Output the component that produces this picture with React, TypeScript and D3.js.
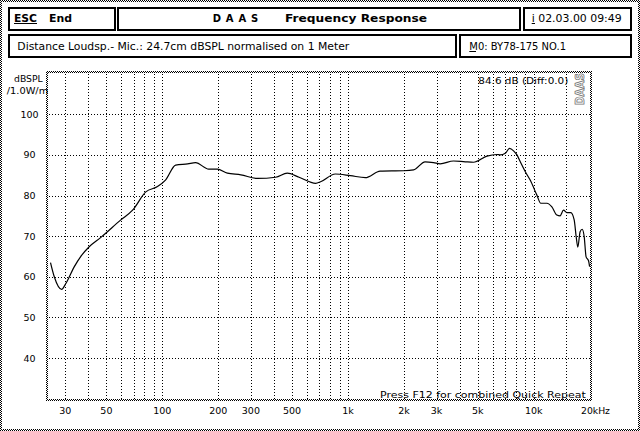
import React from "react";
import * as d3 from "d3";

const freqs = [25, 26.2, 28.7, 30.3, 33.6, 36.5, 40.4, 46.7, 59.8, 69.2, 81.5, 94.2, 104, 118, 137, 151, 178, 198, 224, 265, 325, 408, 471, 545, 670, 712, 855, 1030, 1240, 1490, 1990, 2255, 2600, 2890, 3140, 3700, 4280, 4740, 5600, 6340, 6610, 7030, 7410, 7790, 8125, 8530, 9000, 9575, 10400, 10920, 11780, 12530, 13330, 13870, 14470, 15090, 15850, 16520, 16930, 17280, 17780, 18240, 18700, 19150, 19720, 20000];
const spl = [63.5, 60.0, 56.9, 58.4, 62.5, 65.1, 67.4, 69.7, 74.0, 76.4, 80.9, 82.2, 83.8, 87.5, 87.8, 88.1, 86.5, 86.5, 85.5, 85.1, 84.2, 84.5, 85.5, 84.5, 83.0, 83.4, 85.3, 84.9, 84.4, 86.0, 86.1, 86.3, 88.3, 88.1, 87.8, 88.5, 88.3, 88.2, 89.7, 90.1, 90.0, 90.4, 91.6, 91.0, 90.0, 88.0, 85.9, 83.8, 80.1, 78.1, 78.1, 77.2, 75.2, 75.0, 76.4, 75.8, 75.8, 74.0, 69.9, 67.3, 71.1, 71.7, 69.9, 64.9, 64.0, 62.5];

const yTicks = [100, 90, 80, 70, 60, 50, 40];
const xGrid = [30, 40, 50, 60, 70, 80, 90, 100, 200, 300, 400, 500, 600, 700, 800, 900, 1000, 2000, 3000, 4000, 5000, 6000, 7000, 8000, 9000, 10000, 15000];
const xTickValues = [30, 50, 100, 200, 300, 500, 1000, 2000, 3000, 5000, 10000];
const xTickLabels = ["30", "50", "100", "200", "300", "500", "1k", "2k", "3k", "5k", "10k"];

export default function App() {
  const W = 640, H = 431;
  const x = d3.scaleLog().domain([100, 10000]).range([162.3, 533.7]);
  const y = d3.scaleLinear().domain([100, 40]).range([114.3, 358]);
  const pts: [number, number][] = freqs.map((f, i) => [x(f), y(spl[i])]);
  const line = d3.line().curve(d3.curveMonotoneX)(pts) || "";
  const L = 48, R = 589.5, T = 73, B = 399;
  const font = "'DejaVu Sans', sans-serif";

  const box = (x0: number, y0: number, x1: number, y1: number, key: string) => (
    <rect key={key} x={x0 + 1} y={y0 + 1} width={x1 - x0 - 2} height={y1 - y0 - 2} fill="#fff" stroke="#000" strokeWidth={2} shapeRendering="crispEdges" />
  );

  return (
    <svg width={W} height={H} style={{ position: "absolute", left: 0, top: 0, background: "#fff" }} fontFamily={font}>
      <defs>
        <pattern id="dither" patternUnits="userSpaceOnUse" width={2} height={2}>
          <rect x={0} y={0} width={1} height={1} fill="#000" />
          <rect x={1} y={1} width={1} height={1} fill="#000" />
        </pattern>
      </defs>
      <rect x={0} y={0} width={W} height={H} fill="#fff" />
      {/* outer dithered border */}
      <rect x={1} y={1} width={W - 2} height={H - 2} fill="none" stroke="url(#dither)" strokeWidth={2} shapeRendering="crispEdges" />

      {/* header boxes */}
      {box(8, 7, 116, 31, "b1")}
      {box(117, 7, 521, 31, "b2")}
      {box(523, 7, 632, 31, "b3")}
      {box(8, 34, 457, 58, "b4")}
      {box(459, 34, 632, 58, "b5")}

      <text x={14} y={21.5} fontSize={10} fontWeight="bold" textLength={23} lengthAdjust="spacingAndGlyphs">ESC</text>
      <line x1={14} x2={37} y1={23.5} y2={23.5} stroke="#000" strokeWidth={1} />
      <text x={49} y={21.5} fontSize={10} fontWeight="bold" textLength={23} lengthAdjust="spacingAndGlyphs">End</text>
      <text x={212.7} y={21.5} fontSize={10} fontWeight="bold" textLength={45.6} lengthAdjust="spacing">D A A S</text>
      <text x={285} y={21.5} fontSize={10} fontWeight="bold" textLength={142} lengthAdjust="spacingAndGlyphs">Frequency Response</text>
      <text x={531.7} y={21.5} fontSize={10} textLength={90} lengthAdjust="spacingAndGlyphs">i 02.03.00 09:49</text>
      <line x1={531.7} x2={535} y1={23.5} y2={23.5} stroke="#000" strokeWidth={1} />
      <text x={17.3} y={49.5} fontSize={10} textLength={332} lengthAdjust="spacingAndGlyphs">Distance Loudsp.- Mic.: 24.7cm dBSPL normalised on 1 Meter</text>
      <text x={469.3} y={49.5} fontSize={10} textLength={96.7} lengthAdjust="spacingAndGlyphs">M0: BY78-175 NO.1</text>
      <line x1={469.3} x2={476} y1={51.5} y2={51.5} stroke="#000" strokeWidth={1} />

      {/* grid */}
      <g stroke="#000" strokeWidth={1} strokeDasharray="1 2" shapeRendering="crispEdges">
        {xGrid.map((f) => {
          const xx = Math.round(x(f)) + 0.5;
          return <line key={"v" + f} x1={xx} x2={xx} y1={T + 1} y2={B} />;
        })}
        {yTicks.map((v) => {
          const yy = Math.round(y(v)) + 0.5;
          return <line key={"h" + v} x1={L + 1} x2={R} y1={yy} y2={yy} />;
        })}
      </g>

      {/* plot frame */}
      <rect x={L - 1} y={T - 1} width={R - L + 2} height={B - T + 2} fill="none" stroke="url(#dither)" strokeWidth={2} shapeRendering="crispEdges" />

      {/* DAAS logo */}
      <text transform="translate(584,89) rotate(-90)" textAnchor="middle" fontSize={12} fontWeight="bold" fill="#fff" stroke="#777" strokeWidth={0.8} textLength={32} lengthAdjust="spacingAndGlyphs">DAAS</text>

      {/* axis labels */}
      <text x={14} y={81.5} fontSize={9.5} textLength={28.7} lengthAdjust="spacingAndGlyphs">dBSPL</text>
      <text x={6.7} y={93.5} fontSize={9.5} textLength={41.6} lengthAdjust="spacingAndGlyphs">/1.0W/m</text>
      {yTicks.map((v) => (
        <text key={"yl" + v} x={29.5} y={y(v) + 3.5} fontSize={9.5} textAnchor="middle">{v}</text>
      ))}
      {xTickValues.map((f, i) => (
        <text key={"xl" + f} x={x(f)} y={413.5} fontSize={9.5} textAnchor="middle">{xTickLabels[i]}</text>
      ))}
      <text x={581} y={413.5} fontSize={9.5} textLength={29} lengthAdjust="spacingAndGlyphs">20kHz</text>

      <text x={478.3} y={83.5} fontSize={9.5} textLength={90} lengthAdjust="spacingAndGlyphs">84.6 dB (Diff:0.0)</text>
      <text x={380} y={397.5} fontSize={9.5} textLength={205.7} lengthAdjust="spacingAndGlyphs">Press F12 for combined Quick Repeat</text>

      {/* curve */}
      <path d={line} fill="none" stroke="#000" strokeWidth={1.2} strokeLinejoin="round" />
    </svg>
  );
}
